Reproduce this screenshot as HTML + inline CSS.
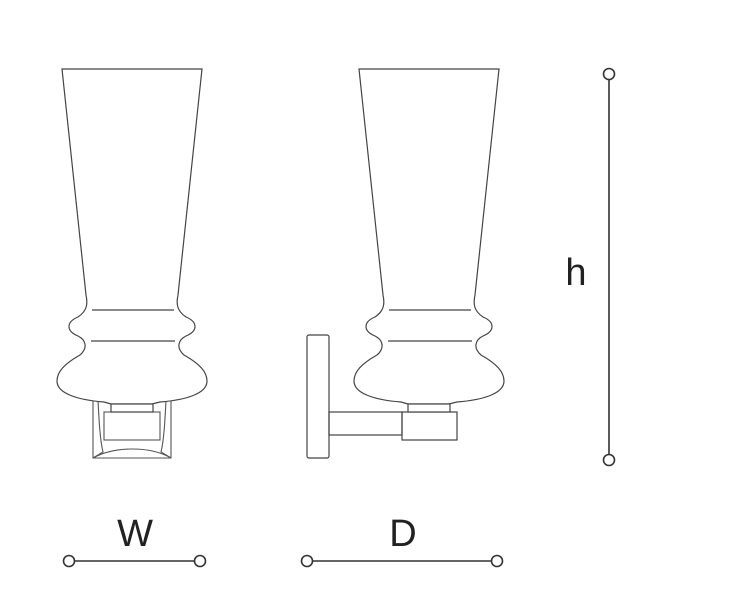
<!DOCTYPE html>
<html><head><meta charset="utf-8"><style>
html,body{margin:0;padding:0;background:#fff;}
svg{display:block;}
text{font-family:"Liberation Sans",sans-serif;font-weight:300;fill:#222;}
</style></head><body>
<svg width="736" height="614" viewBox="0 0 736 614" xmlns="http://www.w3.org/2000/svg">
<defs>
<g id="lamp" fill="none" stroke="#444" stroke-width="1.2">
<path d="M62,69 L202,69 L178,295 C176,304 177,311 186,317 C198,322 198,331 186,336 C178,340 176,348 184,355 C200,364 207,372 207,381 C207,394 185,400 160,402 L152,404 L111,404 L104,402 C79,400 57,394 57,381 C57,372 64,364 80,355 C88,348 86,340 78,336 C66,331 66,322 78,317 C87,311 88,304 86,295 Z" fill="#fff"/>
<line x1="92" y1="310" x2="174" y2="310"/>
<line x1="91" y1="341" x2="175" y2="341"/>
<rect x="111" y="404" width="42" height="8" fill="#fff"/>
</g>
</defs>
<g fill="none" stroke="#555" stroke-width="1.1">
<path d="M93,400 L93,458 L171,458 L171,400"/>
<path d="M98,400 C99,420 100,440 103,452 L93,458"/>
<path d="M166,400 C165,420 164,440 161,452 L171,458"/>
<path d="M93,458 C115,446 150,446 171,458"/>
<rect x="104" y="412" width="56" height="28"/>
</g>
<use href="#lamp"/>
<g fill="none" stroke="#444" stroke-width="1.2">
<rect x="307" y="335" width="22" height="123" rx="2"/>
<rect x="329" y="412" width="73" height="23"/>
<rect x="402" y="412" width="55" height="28"/>
</g>
<use href="#lamp" transform="translate(297,0)"/>
<g stroke="#333" stroke-width="1.6" fill="#fff">
<line x1="609" y1="80" x2="609" y2="454"/>
<circle cx="609" cy="74" r="5.5"/>
<circle cx="609" cy="460" r="5.5"/>
<line x1="75" y1="561" x2="194" y2="561"/>
<circle cx="69" cy="561" r="5.5"/>
<circle cx="200" cy="561" r="5.5"/>
<line x1="313" y1="561" x2="491" y2="561"/>
<circle cx="307" cy="561" r="5.5"/>
<circle cx="497" cy="561" r="5.5"/>
</g>
<text x="135" y="546" font-size="38" text-anchor="middle">W</text>
<text x="403" y="546" font-size="38" text-anchor="middle">D</text>
<text x="576" y="285" font-size="38" text-anchor="middle">h</text>
</svg>
</body></html>
